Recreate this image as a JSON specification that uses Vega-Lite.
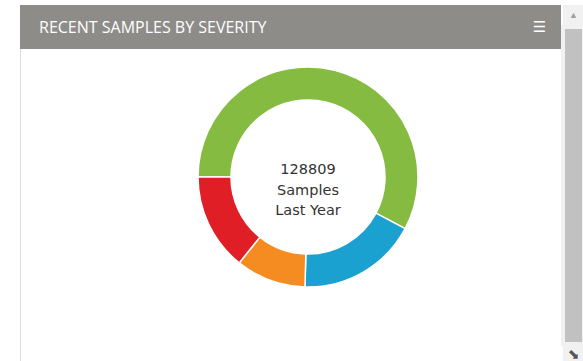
{
"$schema":"https://vega.github.io/schema/vega-lite/v6.json",
"padding":{"left":20,"top":5,"right":0,"bottom":0},
"background":"#ffffff",
"spacing":0,
"config":{"concat":{"spacing":0},"view":{"stroke":null}},
"datasets":{"sev":[{"severity":"A","samples":74430},{"severity":"B","samples":22750},{"severity":"C","samples":13270},{"severity":"D","samples":18359}],"none":[{"k":1}]},
"hconcat":[
 {"spacing":0,"vconcat":[
  {"width":541,"height":44,"view":{"fill":"#8e8c89","stroke":null},
   "data":{"name":"none"},
   "title":{"text":"RECENT SAMPLES BY SEVERITY","orient":"top","anchor":"start","offset":-31,"dx":19,"font":"Open Sans","fontSize":16,"fontWeight":"normal","color":"#ffffff"},
   "mark":{"type":"text","font":"DejaVu Sans","fontSize":15,"color":"#ffffff","dx":249},
   "encoding":{"text":{"value":"☰"}}},
  {"spacing":0,"hconcat":[
   {"width":1,"height":312,"view":{"fill":"#dcdcdc","stroke":null},"data":{"name":"none"},"mark":{"type":"text"},"encoding":{"text":{"value":""}}},
   {"width":34,"height":312,"data":{"name":"none"},"mark":{"type":"text"},"encoding":{"text":{"value":""}}},
   {"width":506,"height":256,
    "data":{"name":"sev"},
    "layer":[
     {"mark":{"type":"arc","outerRadius":110,"innerRadius":77,"stroke":"#ffffff","strokeWidth":1.5},
      "encoding":{
       "theta":{"field":"samples","type":"quantitative","stack":true,"scale":{"range":[-1.5708,4.7124]}},
       "order":{"field":"severity","sort":"ascending"},
       "color":{"field":"severity","type":"nominal","scale":{"domain":["A","B","C","D"],"range":["#85bb41","#1ba1d0","#f58c21","#e01e26"]},
        "legend":{"title":null,"orient":"bottom","direction":"horizontal","offset":12,"symbolType":"circle","symbolSize":120,"symbolStrokeWidth":0,"symbolOpacity":1,"labelFont":"Open Sans","labelFontSize":10,"labelFontWeight":600,"labelColor":"#444444","labelOffset":6,"columnPadding":27,"padding":0}}}},
     {"data":{"name":"none"},"mark":{"type":"text","font":"DejaVu Sans","fontSize":14.5,"letterSpacing":1,"color":"#333333","lineHeight":20.5,"baseline":"middle","dy":-7},
      "encoding":{"text":{"value":["128809","Samples","Last Year"]}}}
    ]}
  ]}
 ]},
 {"spacing":0,"vconcat":[
  {"width":21,"height":20,"view":{"fill":"#f1f1f1","stroke":null},"data":{"name":"none"},"mark":{"type":"text","fontSize":9,"color":"#a0a0a0"},"encoding":{"text":{"value":"▲"}}},
  {"width":21,"height":317,"view":{"fill":"#c1c1c1","stroke":"#f1f1f1","strokeWidth":4},"data":{"name":"none"},"mark":{"type":"text"},"encoding":{"text":{"value":""}}},
  {"width":21,"height":20,"view":{"fill":"#f1f1f1","stroke":null},"data":{"name":"none"},"mark":{"type":"text","fontSize":14,"font":"DejaVu Sans","color":"#555555","dy":-1},"encoding":{"text":{"value":"⬊"}}}
 ]}
]}
